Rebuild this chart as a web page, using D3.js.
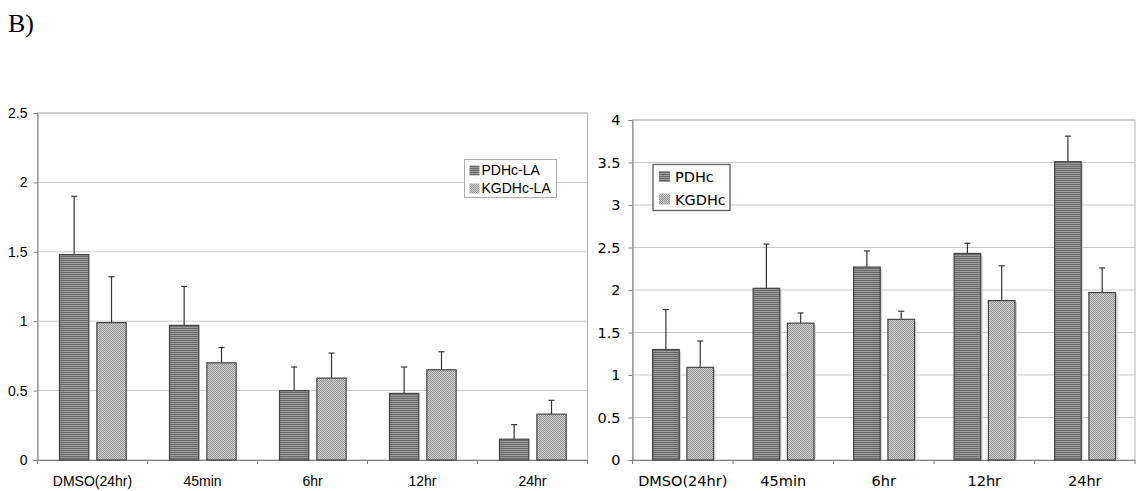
<!DOCTYPE html>
<html><head><meta charset="utf-8">
<script src="https://cdn.jsdelivr.net/npm/d3@7"></script>
<style>body{margin:0;background:#fff}svg{display:block}</style>
</head><body>
<svg id="c" width="1138" height="491"></svg>
<script>
const categories = ["DMSO(24hr)","45min","6hr","12hr","24hr"];
const leftSeries = ["PDHc-LA","KGDHc-LA"];
const leftPDH    = [1.48,0.97,0.50,0.48,0.15];
const leftPDHErr = [0.42,0.28,0.17,0.19,0.105];
const leftKGD    = [0.99,0.70,0.59,0.65,0.33];
const leftKGDErr = [0.33,0.11,0.18,0.13,0.10];
const leftTicks  = [0,0.5,1,1.5,2,2.5];
const rightSeries = ["PDHc","KGDHc"];
const rightPDH    = [1.30,2.02,2.27,2.43,3.51];
const rightPDHErr = [0.47,0.52,0.19,0.12,0.30];
const rightKGD    = [1.09,1.61,1.655,1.875,1.97];
const rightKGDErr = [0.31,0.12,0.095,0.41,0.29];
const rightTicks  = [0,0.5,1,1.5,2,2.5,3,3.5,4];

const svg = d3.select("#c");
const defs = svg.append("defs");
const p1 = defs.append("pattern").attr("id","stripe").attr("patternUnits","userSpaceOnUse").attr("width",4).attr("height",2);
p1.append("rect").attr("width",4).attr("height",2).attr("fill","#9a9a9a");
p1.append("rect").attr("width",4).attr("height",1).attr("fill","#6a6a6a");
const p2 = defs.append("pattern").attr("id","check").attr("patternUnits","userSpaceOnUse").attr("width",2).attr("height",2);
p2.append("rect").attr("width",2).attr("height",2).attr("fill","#d2d2d2");
p2.append("rect").attr("width",1).attr("height",1).attr("fill","#939393");
p2.append("rect").attr("x",1).attr("y",1).attr("width",1).attr("height",1).attr("fill","#939393");

svg.append("text").attr("x",8).attr("y",32).attr("font-family","'Liberation Serif','Times New Roman',serif")
  .attr("font-size",26).attr("fill","#000").text("B)");

function panel(o){
  const g = svg.append("g");
  const x0 = d3.scaleBand().domain(categories).range([o.x1,o.x2]).paddingInner(0).paddingOuter(0);
  const bw = x0.bandwidth();
  const xs = d3.scaleBand().domain(o.series).range([bw*0.2,bw*0.806]).paddingInner(o.gapFrac).paddingOuter(0);
  const y = d3.scaleLinear().domain([0,o.max]).range([o.yb,o.yt]);
  g.append("g").selectAll("line").data(o.ticks.filter(t=>t>0)).join("line")
    .attr("x1",o.x1).attr("x2",o.x2).attr("y1",d=>y(d)).attr("y2",d=>y(d))
    .attr("stroke","#c9c9c9").attr("stroke-width",1);
  g.append("rect").attr("x",o.x1).attr("y",o.yt).attr("width",o.x2-o.x1).attr("height",o.yb-o.yt)
    .attr("fill","none").attr("stroke","#b5b5b5").attr("stroke-width",1);
  const ya = d3.axisLeft(y).tickValues(o.ticks).tickSize(4).tickPadding(o.tickPad).tickFormat(d=>String(d));
  const yg = g.append("g").attr("transform",`translate(${o.x1},0)`).call(ya);
  yg.select(".domain").attr("stroke","#808080");
  yg.selectAll(".tick line").attr("stroke","#808080");
  yg.selectAll("text").attr("font-family",o.font).attr("font-size",o.fs).attr("fill","#000");
  const xa = d3.axisBottom(x0).tickSize(0).tickPadding(o.xPad);
  const xg = g.append("g").attr("transform",`translate(0,${o.yb})`).call(xa);
  xg.select(".domain").attr("stroke","#808080");
  xg.selectAll("text").attr("font-family",o.font).attr("font-size",o.fs).attr("fill","#000");
  const bounds = categories.map(c=>x0(c)).concat([o.x2]);
  g.append("g").selectAll("line").data(bounds).join("line")
    .attr("x1",d=>d).attr("x2",d=>d).attr("y1",o.yb).attr("y2",o.yb+4).attr("stroke","#808080");
  const rows = [];
  categories.forEach((c,i)=>{
    rows.push({c, s:o.series[0], v:o.a[i], e:o.ae[i], fill:"url(#stripe)"});
    rows.push({c, s:o.series[1], v:o.b[i], e:o.be[i], fill:"url(#check)"});
  });
  if(o.shadow){
    g.append("g").selectAll("rect").data(rows).join("rect")
      .attr("x",d=>x0(d.c)+xs(d.s)+2).attr("y",d=>y(d.v)+2)
      .attr("width",xs.bandwidth()).attr("height",d=>o.yb-y(d.v)-2)
      .attr("fill","#d6d6d6");
  }
  const eg = g.append("g").attr("stroke","#333").attr("stroke-width",1.2);
  eg.selectAll(".ev").data(rows).join("line")
    .attr("x1",d=>x0(d.c)+xs(d.s)+xs.bandwidth()/2).attr("x2",d=>x0(d.c)+xs(d.s)+xs.bandwidth()/2)
    .attr("y1",d=>y(d.v)).attr("y2",d=>y(d.v+d.e));
  eg.selectAll(".ec").data(rows).join("line")
    .attr("x1",d=>x0(d.c)+xs(d.s)+xs.bandwidth()/2-3).attr("x2",d=>x0(d.c)+xs(d.s)+xs.bandwidth()/2+3)
    .attr("y1",d=>y(d.v+d.e)).attr("y2",d=>y(d.v+d.e));
  g.append("g").selectAll("rect").data(rows).join("rect")
    .attr("x",d=>x0(d.c)+xs(d.s)).attr("y",d=>y(d.v))
    .attr("width",xs.bandwidth()).attr("height",d=>o.yb-y(d.v))
    .attr("fill",d=>d.fill).attr("stroke","#444").attr("stroke-width",1.2);
  const L = o.legend;
  const lg = g.append("g");
  lg.append("rect").attr("x",L.x).attr("y",L.y).attr("width",L.w).attr("height",L.h)
    .attr("fill","#fff").attr("stroke",L.stroke).attr("stroke-width",L.sw);
  o.series.forEach((s,i)=>{
    lg.append("rect").attr("x",L.x+L.sx).attr("y",L.y+L.sy+i*L.dy).attr("width",L.ss).attr("height",L.ss)
      .attr("fill",i===0?"url(#stripe)":"url(#check)");
    lg.append("text").attr("x",L.x+L.tx).attr("y",L.y+L.ty+i*L.dy)
      .attr("font-family",o.font).attr("font-size",L.fs).attr("fill","#000").text(s);
  });
}

panel({x1:37.5,x2:587.5,yt:113,yb:460,max:2.5,ticks:leftTicks,series:leftSeries,
  a:leftPDH,ae:leftPDHErr,b:leftKGD,be:leftKGDErr,gapFrac:0.216,shadow:false,
  font:"'Liberation Sans',Arial,Helvetica,sans-serif",fs:14,tickPad:6,xPad:16,
  legend:{x:464.5,y:159.5,w:92,h:38,stroke:"#aaa",sw:1,sx:5,sy:6,ss:10,dy:18,tx:17,ty:15,fs:14}});

panel({x1:632.5,x2:1135,yt:120,yb:460,max:4,ticks:rightTicks,series:rightSeries,
  a:rightPDH,ae:rightPDHErr,b:rightKGD,be:rightKGDErr,gapFrac:0.224,shadow:true,
  font:"'DejaVu Sans',Verdana,sans-serif",fs:14.5,tickPad:8,xPad:16,
  legend:{x:653,y:164.5,w:77,h:46,stroke:"#666",sw:1.4,sx:6,sy:6.5,ss:11,dy:22.5,tx:22,ty:17.5,fs:14.5}});
</script>
</body></html>
